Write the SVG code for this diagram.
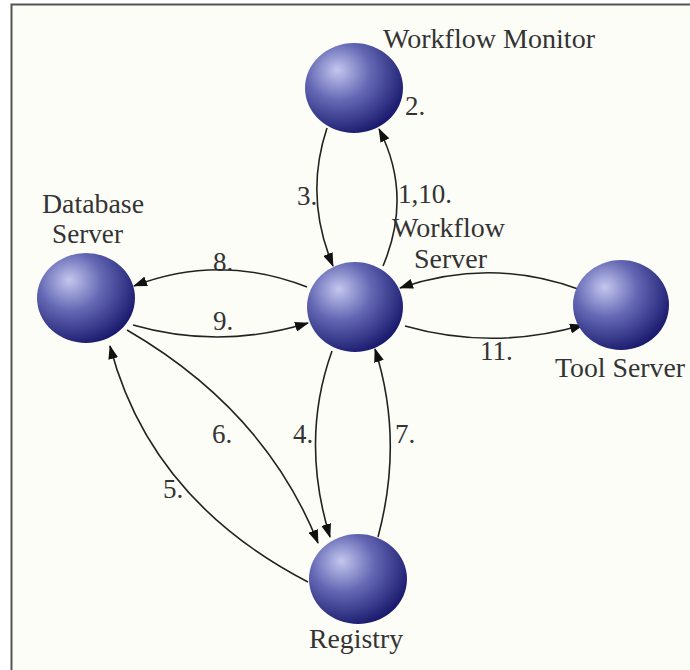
<svg xmlns="http://www.w3.org/2000/svg" width="690" height="670" viewBox="0 0 690 670">
<defs>
<radialGradient id="sph" cx="0.36" cy="0.34" r="0.72" fx="0.33" fy="0.3">
<stop offset="0" stop-color="#c4c7ee"/>
<stop offset="0.45" stop-color="#6468b4"/>
<stop offset="1" stop-color="#16166a"/>
</radialGradient>
<marker id="ah" viewBox="0 0 14 10" refX="13" refY="5" markerWidth="14" markerHeight="10" markerUnits="userSpaceOnUse" orient="auto">
<path d="M0,0 L14,5 L0,10 z" fill="#111"/>
</marker>
</defs>
<style>
.t{font-family:"Liberation Serif","Times New Roman",serif;font-size:27px;fill:#333}
.n{font-family:"Liberation Serif","Times New Roman",serif;font-size:27px;fill:#333}
.e{fill:none;stroke:#222;stroke-width:1.6;marker-end:url(#ah)}
.s{fill:url(#sph)}
</style>
<rect x="0" y="0" width="690" height="670" fill="#ffffff"/>
<rect x="12" y="5" width="678" height="665" fill="#fdfdf8"/>
<path d="M11.5,670 L11.5,4.5 L690,4.5" fill="none" stroke="#555" stroke-width="2"/>

<g id="connectors">
<path class="e" d="M327,128 Q304,197 333,266"/>
<path class="e" d="M383,266 Q413,195 379,129"/>
<path class="e" d="M307,287 Q220,253 134,286"/>
<path class="e" d="M133,325 Q220,350 308,323"/>
<path class="e" d="M578,289 Q490,257 400,288"/>
<path class="e" d="M405,326 Q493,351 583,325"/>
<path class="e" d="M332,351 Q300,440 330,537"/>
<path class="e" d="M378,537 Q404,440 375,349"/>
<path class="e" d="M127,330 Q265,410 318,543"/>
<path class="e" d="M308,582 Q150,500 110,346"/>
<text class="n" x="405" y="115">2.</text>
<text class="n" x="297" y="205">3.</text>
<text class="n" x="398" y="203">1,10.</text>
<text class="n" x="213" y="271">8.</text>
<text class="n" x="213" y="330">9.</text>
<text class="n" x="480" y="360">11.</text>
<text class="n" x="212" y="443">6.</text>
<text class="n" x="293" y="443">4.</text>
<text class="n" x="395" y="443">7.</text>
<text class="n" x="163" y="498">5.</text>
</g>

<g id="workflow-monitor">
<ellipse class="s" cx="354" cy="88" rx="49" ry="45"/>
<text class="t" x="383" y="48" textLength="212" lengthAdjust="spacingAndGlyphs">Workflow Monitor</text>
</g>
<g id="workflow-server">
<ellipse class="s" cx="355" cy="307" rx="48" ry="45"/>
<text class="t" x="392" y="237" textLength="113" lengthAdjust="spacingAndGlyphs">Workflow</text>
<text class="t" x="414" y="268" textLength="73" lengthAdjust="spacingAndGlyphs">Server</text>
</g>
<g id="database-server">
<ellipse class="s" cx="86" cy="298" rx="49" ry="45"/>
<text class="t" x="42" y="213" textLength="102" lengthAdjust="spacingAndGlyphs">Database</text>
<text class="t" x="52" y="243" textLength="71" lengthAdjust="spacingAndGlyphs">Server</text>
</g>
<g id="tool-server">
<ellipse class="s" cx="621" cy="305" rx="48" ry="45"/>
<text class="t" x="555" y="377" textLength="130" lengthAdjust="spacingAndGlyphs">Tool Server</text>
</g>
<g id="registry">
<ellipse class="s" cx="358" cy="579" rx="49" ry="45"/>
<text class="t" x="309" y="648" textLength="94" lengthAdjust="spacingAndGlyphs">Registry</text>
</g>
</svg>
